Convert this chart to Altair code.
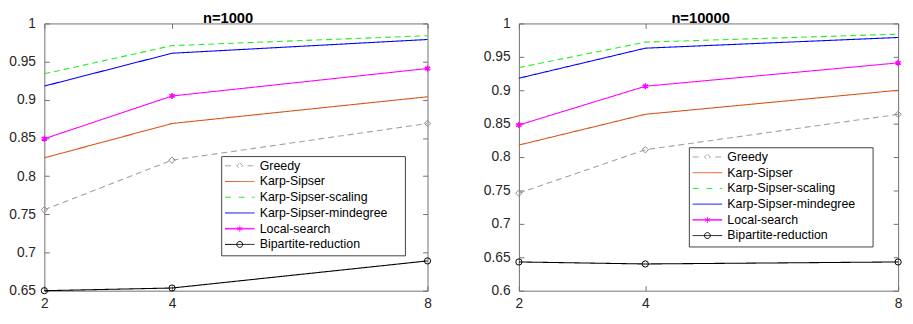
import altair as alt
import pandas as pd

# ---- data ----
x_vals = [2, 4, 8]
series_names = ["Greedy", "Karp-Sipser", "Karp-Sipser-scaling",
                "Karp-Sipser-mindegree", "Local-search", "Bipartite-reduction"]

n1000_greedy = [0.756, 0.821, 0.869]
n1000_ks = [0.824, 0.869, 0.904]
n1000_scaling = [0.934, 0.971, 0.984]
n1000_mindeg = [0.918, 0.961, 0.979]
n1000_local = [0.849, 0.905, 0.941]
n1000_bip = [0.650, 0.6535, 0.689]

n10000_greedy = [0.746, 0.811, 0.864]
n10000_ks = [0.818, 0.864, 0.900]
n10000_scaling = [0.934, 0.972, 0.984]
n10000_mindeg = [0.918, 0.963, 0.979]
n10000_local = [0.848, 0.906, 0.941]
n10000_bip = [0.643, 0.640, 0.643]

y_ticks_1000 = [0.65, 0.7, 0.75, 0.8, 0.85, 0.9, 0.95, 1.0]
y_ticks_10000 = [0.6, 0.65, 0.7, 0.75, 0.8, 0.85, 0.9, 0.95, 1.0]

# ---- styles ----
FONT = "Liberation Sans"
colors = ["#a0a0a0", "#D95319", "#22ee22", "#0000ff", "#ff00ff", "#000000"]
dashes = [[6, 4], [1, 0], [6, 4], [1, 0], [1, 0], [1, 0]]
# legend samples: line + marker, like the MATLAB legend (the trailing move-to
# only widens the legend frame on the right, it draws nothing)
legend_paths = [
    "M-3,0L-1.6,0M1.6,0L3,0M0,-0.6L0.6,0L0,0.6L-0.6,0ZM32.5,0",
    "M-3,0L3,0",
    "M-3,0L-1,0M-0.2,0L1.8,0M2.5,0L3,0",
    "M-3,0L3,0",
    "M-3,-0.06L3,-0.06M-3,0.06L3,0.06M0,-0.6L0,0.6M-0.52,-0.3L0.52,0.3M-0.52,0.3L0.52,-0.3",
    "M-3,0L3,0M0.6,0A0.6,0.6,0,1,1,-0.6,0A0.6,0.6,0,1,1,0.6,0",
]
asterisk = "M0,-1L0,1M-0.87,-0.5L0.87,0.5M-0.87,0.5L0.87,-0.5"
AX_COLOR = "#707070"
PLOT_H = 272


def panel(title, values, y_domain, y_ticks, lx, ly, width, dx):
    rows = []
    for name, vals in zip(series_names, values):
        for xv, yv in zip(x_vals, vals):
            rows.append({"series": name, "x": xv, "y": yv})
    df = pd.DataFrame(rows)
    base = alt.Chart(df)

    xs = alt.Scale(domain=[2, 8], nice=False, zero=False)
    ys = alt.Scale(domain=y_domain, nice=False, zero=False)
    common = dict(grid=False, title=None, domain=False, tickSize=5, offset=-5,
                  tickColor=AX_COLOR, tickWidth=1, labelFont=FONT, labelFontSize=14,
                  labelColor="#262626", labelOverlap=False, labelFlush=False,
                  labelBound=False, minExtent=0)
    x_main = alt.X("x:Q", scale=xs, axis=alt.Axis(values=x_vals, orient="bottom",
                                                   labelPadding=6, **common))
    y_main = alt.Y("y:Q", scale=ys, axis=alt.Axis(values=y_ticks, orient="left",
                                                   labelPadding=9, format=".2~f", **common))
    x_top = alt.X("x:Q", scale=xs, axis=alt.Axis(values=x_vals, orient="top",
                                                  labels=False, **common))
    y_right = alt.Y("y:Q", scale=ys, axis=alt.Axis(values=y_ticks, orient="right",
                                                    labels=False, **common))
    x_none = alt.X("x:Q", scale=xs, axis=None)
    y_none = alt.Y("y:Q", scale=ys, axis=None)

    color_scale = alt.Scale(domain=series_names, range=colors)

    leg = alt.Legend(title=None, orient="none", legendX=lx, legendY=ly,
                     symbolSize=100, symbolStrokeWidth=1, symbolOffset=9,
                     labelOffset=14, rowPadding=3, padding=3.6,
                     strokeColor="#404040", fillColor="white",
                     labelFont=FONT, labelFontSize=12.6, labelColor="black",
                     labelLimit=400)
    legend_layer = base.transform_filter("false").mark_point(
        filled=False, opacity=1).encode(
        color=alt.Color("series:N", scale=color_scale, legend=leg),
        shape=alt.Shape("series:N",
                        scale=alt.Scale(domain=series_names, range=legend_paths),
                        legend=leg),
    )

    lines = base.mark_line(strokeWidth=1.1).encode(
        x=x_main, y=y_main,
        color=alt.Color("series:N", scale=color_scale, legend=leg),
        strokeDash=alt.StrokeDash("series:N",
                                  scale=alt.Scale(domain=series_names, range=dashes),
                                  legend=None),
        order=alt.Order("x:Q"),
    )
    frame_ticks = base.mark_line(opacity=0).encode(
        x=x_top, y=y_right, detail="series:N")

    m_greedy = base.transform_filter(alt.datum.series == "Greedy").mark_point(
        shape="diamond", filled=False, size=42, color="#8c8c8c", opacity=1,
        strokeWidth=1).encode(x=x_none, y=y_none)
    m_local = base.transform_filter(alt.datum.series == "Local-search").mark_point(
        shape=asterisk, filled=False, size=40, color="#ff00ff", opacity=1,
        strokeWidth=1.6).encode(x=x_none, y=y_none)
    m_bip = base.transform_filter(alt.datum.series == "Bipartite-reduction").mark_point(
        shape="circle", filled=False, size=40, color="#000000", opacity=1,
        strokeWidth=1).encode(x=x_none, y=y_none)

    return alt.layer(legend_layer, lines, m_greedy, m_local, m_bip, frame_ticks).resolve_axis(
        x="independent", y="independent"
    ).properties(
        width=width, height=PLOT_H,
        title=alt.Title(title, font=FONT, fontSize=15, fontWeight="bold",
                        color="black", offset=-10, dx=dx),
    )


left = panel("n=1000",
             [n1000_greedy, n1000_ks, n1000_scaling, n1000_mindeg, n1000_local, n1000_bip],
             [0.65, 1.0], y_ticks_1000, 180, 135, 390, -8)
right = panel("n=10000",
              [n10000_greedy, n10000_ks, n10000_scaling, n10000_mindeg, n10000_local, n10000_bip],
              [0.6, 1.0], y_ticks_10000, 173, 126, 386, -8)

chart = alt.hconcat(left, right, spacing=49).resolve_scale(
    color="independent", shape="independent", strokeDash="independent"
).properties(
    padding={"left": 0, "top": 0, "right": 0, "bottom": 0}
).configure(
    font=FONT, view=alt.ViewConfig(stroke=AX_COLOR, strokeWidth=1)
)

chart.save("out.html", embed_options={"renderer": "svg", "actions": False})
